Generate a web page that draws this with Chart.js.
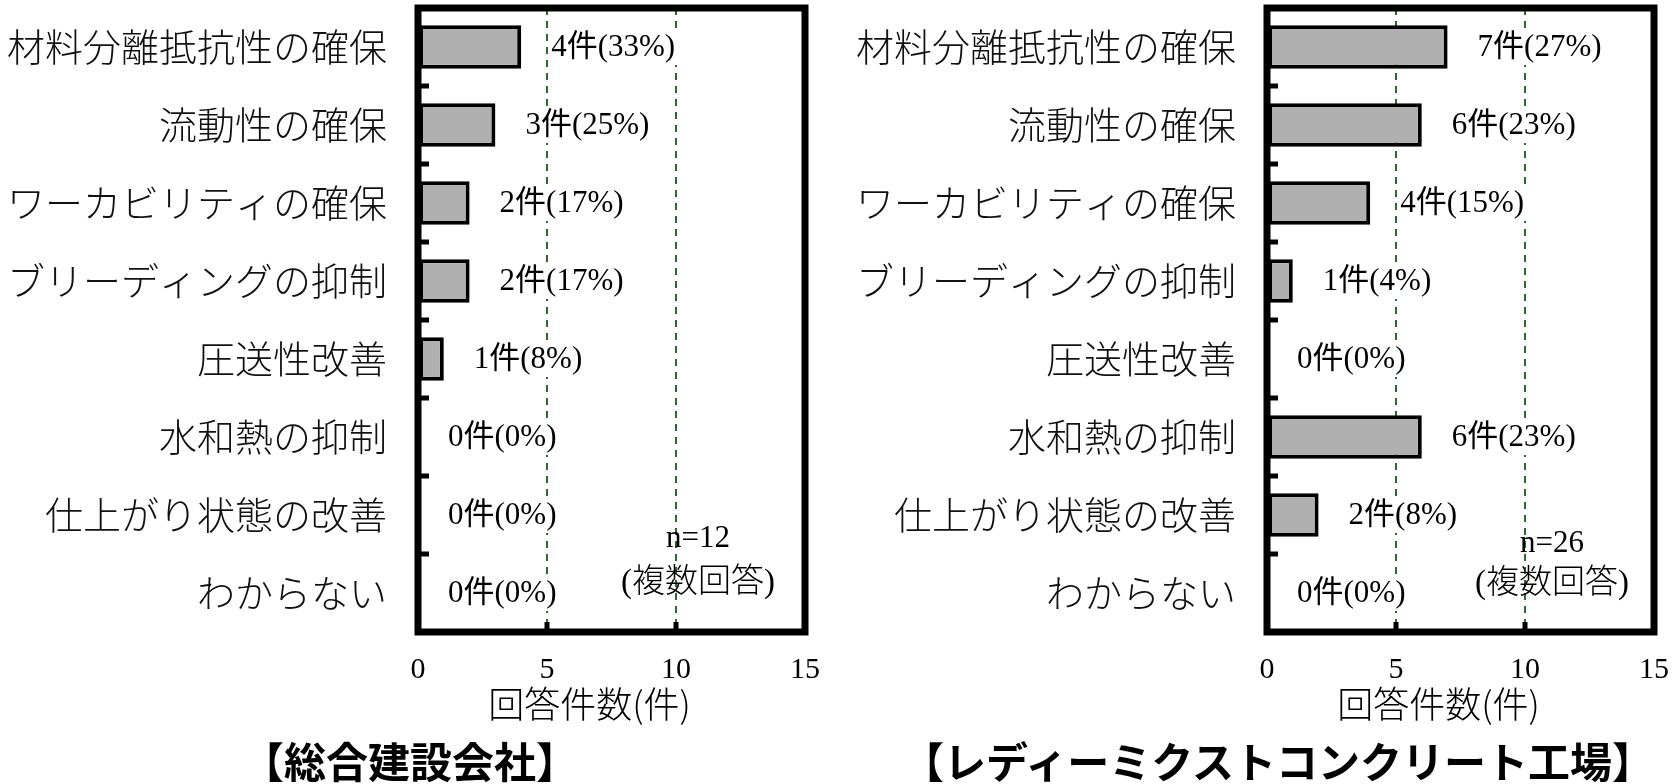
<!DOCTYPE html>
<html>
<head>
<meta charset="utf-8">
<script src="https://cdn.jsdelivr.net/npm/chart.js@4.4.1/dist/chart.umd.min.js"></script>
<style>
  html, body { margin: 0; padding: 0; background: #fff; }
  body { width: 1675px; height: 784px; position: relative; overflow: hidden; }
  .wrap { position: absolute; top: 0; height: 784px; }
  #leftWrap { left: 0; width: 830px; }
  #rightWrap { left: 840px; width: 835px; }
  .caption {
    position: absolute; top: 729px; width: 800px; text-align: center; line-height: 62px;
    font: bold 42px "Noto Sans CJK JP", sans-serif; color: #000;
  }
</style>
</head>
<body>
<div class="wrap" id="leftWrap"><canvas id="leftChart"></canvas></div>
<div class="wrap" id="rightWrap"><canvas id="rightChart"></canvas></div>
<div class="caption" style="left:10px">【総合建設会社】</div>
<div class="caption" style="left:878px">【レディーミクストコンクリート工場】</div>

<script>
// データ
const categories = [
  "材料分離抵抗性の確保",
  "流動性の確保",
  "ワーカビリティの確保",
  "ブリーディングの抑制",
  "圧送性改善",
  "水和熱の抑制",
  "仕上がり状態の改善",
  "わからない"
];
const contractorCounts = [4, 3, 2, 2, 1, 0, 0, 0];
const contractorPct = [33, 25, 17, 17, 8, 0, 0, 0];
const plantCounts = [7, 6, 4, 1, 0, 6, 2, 0];
const plantPct = [27, 23, 15, 4, 0, 23, 8, 0];
const xTicks = [0, 5, 10, 15];
const axisTitle = "回答件数(件)";

const SERIF = '"Liberation Serif", "Noto Sans CJK JP", serif';
const CJK = '"Noto Sans CJK JP", sans-serif';

// 値ラベル（白背景つき）
const valueLabels = {
  id: "valueLabels",
  afterDatasetsDraw(chart, args, opts) {
    const ctx = chart.ctx;
    const xs = chart.scales.x;
    const meta = chart.getDatasetMeta(0);
    const counts = chart.data.datasets[0].data;
    ctx.save();
    ctx.font = "31px " + SERIF;
    ctx.textBaseline = "middle";
    ctx.textAlign = "left";
    meta.data.forEach((bar, i) => {
      const text = `${counts[i]}件(${opts.pct[i]}%)`;
      const x = xs.getPixelForValue(counts[i]) + 30;
      const w = ctx.measureText(text).width;
      ctx.fillStyle = "#fff";
      ctx.fillRect(x - 2, bar.y - 18, w + 4, 36);
      ctx.fillStyle = "#000";
      ctx.fillText(text, x, bar.y + 1);
    });
    ctx.restore();
  }
};

// n=xx (複数回答)
const note = {
  id: "note",
  afterDatasetsDraw(chart, args, opts) {
    const ctx = chart.ctx;
    const xs = chart.scales.x, ys = chart.scales.y;
    const x = xs.getPixelForValue(opts.xValue);
    const yLast = ys.getPixelForValue(categories.length - 1);
    ctx.save();
    ctx.textAlign = "center";
    ctx.textBaseline = "middle";
    ctx.fillStyle = "#000";
    ctx.font = "31px " + SERIF;
    ctx.fillText("n=" + opts.n, x, yLast + opts.dy1);
    ctx.font = '300 33px "Liberation Serif", "Noto Sans CJK JP", serif';
    ctx.fillText("(複数回答)", x, yLast + opts.dy2);
    ctx.restore();
  }
};

// 枠線・内向き目盛り・軸タイトル
const frame = {
  id: "frame",
  afterDraw(chart) {
    const { ctx, chartArea: a } = chart;
    const xs = chart.scales.x, ys = chart.scales.y;
    ctx.save();
    ctx.strokeStyle = "#000";
    ctx.lineCap = "butt";
    ctx.lineWidth = 5;
    [5, 10].forEach(v => {
      const x = xs.getPixelForValue(v);
      ctx.beginPath();
      ctx.moveTo(x, a.bottom);
      ctx.lineTo(x, a.bottom - 10);
      ctx.stroke();
    });
    for (let i = 1; i < categories.length; i++) {
      const y = (ys.getPixelForValue(i - 1) + ys.getPixelForValue(i)) / 2;
      ctx.beginPath();
      ctx.moveTo(a.left, y);
      ctx.lineTo(a.left + 11, y);
      ctx.stroke();
    }
    ctx.lineWidth = 7;
    ctx.lineJoin = "miter";
    ctx.strokeRect(a.left, a.top, a.right - a.left, a.bottom - a.top);

    ctx.fillStyle = "#000";
    ctx.font = '300 36px "Noto Sans CJK JP", sans-serif';
    ctx.textAlign = "center";
    ctx.textBaseline = "middle";
    ctx.fillText(axisTitle, (a.left + a.right) / 2 - 22, a.bottom + 72);
    ctx.restore();
  }
};

function makeChart(id, counts, pct, n, yWidth, padRight, noteOpts) {
  return new Chart(document.getElementById(id), {
    type: "bar",
    data: {
      labels: categories,
      datasets: [{
        data: counts,
        backgroundColor: "#b0b0b0",
        borderColor: "#000",
        borderWidth: 4,
        borderSkipped: false,
        barPercentage: 0.56,
        categoryPercentage: 1
      }]
    },
    options: {
      indexAxis: "y",
      responsive: true,
      maintainAspectRatio: false,
      animation: false,
      layout: { padding: { top: 8, right: padRight, bottom: 76, left: 0 } },
      plugins: {
        legend: { display: false },
        tooltip: { enabled: false },
        valueLabels: { pct },
        note: Object.assign({ n }, noteOpts)
      },
      scales: {
        x: {
          min: 0, max: 15,
          afterBuildTicks: s => { s.ticks = xTicks.map(v => ({ value: v })); },
          grid: {
            color: c => (c.tick && (c.tick.value === 5 || c.tick.value === 10)) ? "#2a6a30" : "rgba(0,0,0,0)",
            lineWidth: 2,
            drawTicks: false
          },
          border: { display: false, dash: [7, 6] },
          ticks: { color: "#000", font: { family: SERIF, size: 30 }, padding: 20 },
          afterFit: s => { s.paddingLeft = 0; s.paddingRight = 0; }
        },
        y: {
          grid: { display: false, drawTicks: false },
          border: { display: false },
          ticks: { color: "#111", font: { family: CJK, size: 38, weight: 300 }, padding: 31, autoSkip: false },
          afterFit: s => { s.width = yWidth; s.paddingTop = 0; s.paddingBottom = 0; }
        }
      }
    },
    plugins: [valueLabels, note, frame]
  });
}

makeChart("leftChart", contractorCounts, contractorPct, 12, 418, 25, { xValue: 10.85, dy1: -54, dy2: -10 });
makeChart("rightChart", plantCounts, plantPct, 26, 427, 21, { xValue: 11.05, dy1: -49, dy2: -9 });
</script>
</body>
</html>
